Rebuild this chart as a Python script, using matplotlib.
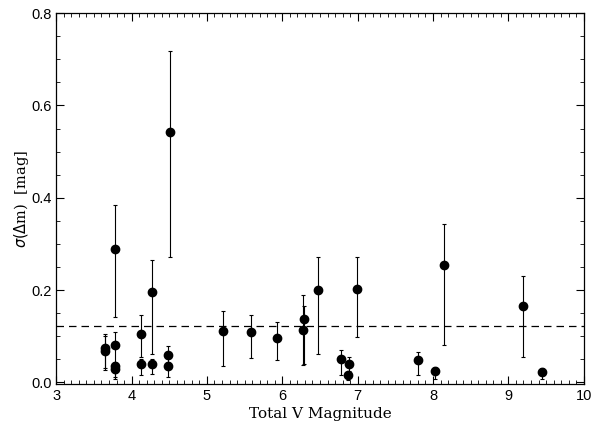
import matplotlib.pyplot as plt
from matplotlib.ticker import MultipleLocator
import numpy as np

plt.rcParams['font.family'] = 'Liberation Sans'

# total V magnitude, sigma(dm), error bar ends (low, high)
vmag  = [3.65, 3.65, 3.78, 3.78, 3.78, 3.78, 4.13, 4.13, 4.27, 4.27, 4.48, 4.48, 4.51,
         5.21, 5.59, 5.93, 6.28, 6.29, 6.48, 6.78, 6.89, 6.87, 6.99, 7.80, 8.03, 8.14,
         9.20, 9.45]
sigma = [0.075, 0.068, 0.289, 0.081, 0.036, 0.029, 0.105, 0.040, 0.196, 0.040, 0.060, 0.036, 0.543,
         0.112, 0.109, 0.095, 0.114, 0.137, 0.201, 0.050, 0.040, 0.015, 0.202, 0.048, 0.024, 0.255,
         0.166, 0.023]
err_lo = [0.030, 0.026, 0.142, 0.020, 0.012, 0.008, 0.055, 0.015, 0.062, 0.018, 0.040, 0.012, 0.271,
          0.035, 0.053, 0.048, 0.037, 0.040, 0.062, 0.015, 0.025, 0.005, 0.098, 0.015, 0.007, 0.080,
          0.055, 0.007]
err_hi = [0.105, 0.100, 0.384, 0.110, 0.045, 0.040, 0.146, 0.050, 0.266, 0.050, 0.078, 0.045, 0.719,
          0.155, 0.145, 0.130, 0.190, 0.165, 0.272, 0.069, 0.055, 0.020, 0.271, 0.066, 0.034, 0.344,
          0.230, 0.030]
sigma_mean = 0.123

sigma = np.array(sigma)
yerr = [sigma - np.array(err_lo), np.array(err_hi) - sigma]

fig = plt.figure(figsize=(5.92, 4.24), dpi=100)
ax = fig.add_axes([0.095, 0.094, 0.891, 0.875])

ax.errorbar(vmag, sigma, yerr=yerr, fmt='o', color='black', ms=6,
            elinewidth=0.8, capsize=1.5, capthick=0.8)
ax.axhline(sigma_mean, color='black', linestyle=(0, (6, 4)), linewidth=0.9)

ax.set_xlim(3, 10)
ax.set_ylim(-0.004, 0.8)
ax.xaxis.set_major_locator(MultipleLocator(1))
ax.xaxis.set_minor_locator(MultipleLocator(0.1))
ax.yaxis.set_major_locator(MultipleLocator(0.2))
ax.yaxis.set_minor_locator(MultipleLocator(0.05))
ax.yaxis.set_major_formatter(plt.FormatStrFormatter('%.1f'))
ax.tick_params(which='both', direction='in', top=True, right=True, labelsize=10.5)
ax.tick_params(which='major', length=6, width=0.8)
ax.tick_params(which='minor', length=3, width=0.6)
for s in ax.spines.values():
    s.set_linewidth(0.9)

ax.set_xlabel('Total V Magnitude', fontsize=11, family='DejaVu Serif', labelpad=3)
ax.set_ylabel(r'$\sigma(\Delta$m)  [mag]', fontsize=10.5, family='DejaVu Serif', labelpad=0)

fig.savefig('out.png', dpi=100)
